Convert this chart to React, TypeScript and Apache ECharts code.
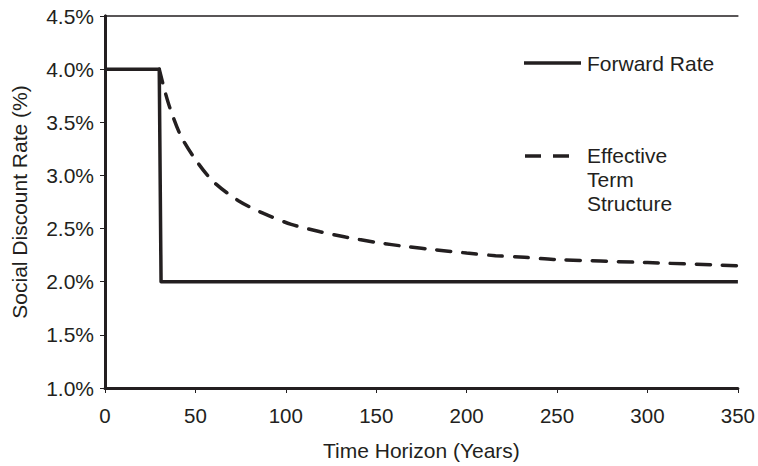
import React, { useEffect, useRef } from "react";
import * as echarts from "echarts";

const forwardYears = [0, 30, 31, 350];
const forwardRate = [4.0, 4.0, 2.0, 2.0];

const effectiveYears = [30, 33, 36, 42, 50, 60, 74, 88, 103, 119, 133, 150, 167, 183, 200, 216, 232, 248, 300, 350];
const effectiveRate = [4.0, 3.8, 3.63, 3.37, 3.15, 2.94, 2.76, 2.64, 2.54, 2.47, 2.42, 2.37, 2.33, 2.3, 2.27, 2.245, 2.23, 2.21, 2.18, 2.15];

const xTicks = [0, 50, 100, 150, 200, 250, 300, 350];
const yTicks = [1.0, 1.5, 2.0, 2.5, 3.0, 3.5, 4.0, 4.5];

const INK = "#231f20";
const FONT = "'Liberation Sans', Arial, sans-serif";

export default function App() {
  const ref = useRef<HTMLDivElement>(null);
  useEffect(() => {
    if (!ref.current) return;
    const chart = echarts.init(ref.current, null, { renderer: "svg" });
    const fwd = forwardYears.map((x, i) => [x, forwardRate[i]]);
    const eff = effectiveYears.map((x, i) => [x, effectiveRate[i]]);
    chart.setOption({
      animation: false,
      backgroundColor: "#ffffff",
      textStyle: { fontFamily: FONT, color: INK },
      grid: { left: 105, right: 17, top: 16, bottom: 76 },
      xAxis: [
        {
          type: "value",
          min: xTicks[0],
          max: xTicks[xTicks.length - 1],
          interval: 50,
          name: "Time Horizon (Years)",
          nameLocation: "middle",
          nameGap: 52,
          nameTextStyle: { fontSize: 21, color: INK, fontFamily: FONT },
          axisLine: { show: true, lineStyle: { color: INK, width: 3 } },
          axisTick: { show: true, length: 5, inside: false, lineStyle: { color: INK, width: 1 } },
          axisLabel: { fontSize: 20.5, color: INK, margin: 17, fontFamily: FONT },
          splitLine: { show: false },
        },
        {
          type: "value",
          position: "top",
          min: 0,
          max: 350,
          axisLine: { show: true, lineStyle: { color: INK, width: 1.5 } },
          axisTick: { show: false },
          axisLabel: { show: false },
          splitLine: { show: false },
        },
      ],
      yAxis: [
        {
          type: "value",
          min: yTicks[0],
          max: yTicks[yTicks.length - 1],
          interval: 0.5,
          name: "Social Discount Rate (%)",
          nameLocation: "middle",
          nameGap: 75,
          nameTextStyle: { fontSize: 21, color: INK, fontFamily: FONT },
          axisLine: { show: true, lineStyle: { color: INK, width: 3 } },
          axisTick: { show: true, length: 5, inside: false, lineStyle: { color: INK, width: 1 } },
          axisLabel: {
            fontSize: 21,
            color: INK,
            margin: 11,
            fontFamily: FONT,
            formatter: (v: number) => v.toFixed(1) + "%",
          },
          splitLine: { show: false },
        },
        {
          type: "value",
          position: "right",
          min: 1.0,
          max: 4.5,
          axisLine: { show: true, lineStyle: { color: INK, width: 3 } },
          axisTick: { show: false },
          axisLabel: { show: false },
          splitLine: { show: false },
        },
      ],
      series: [
        {
          name: "Forward Rate",
          type: "line",
          data: fwd,
          showSymbol: false,
          symbol: "none",
          lineStyle: { color: INK, width: 3.5, join: "round" },
          z: 3,
        },
        {
          name: "Effective Term Structure",
          type: "line",
          data: eff,
          smooth: 0.3,
          showSymbol: false,
          symbol: "none",
          lineStyle: { color: INK, width: 3.5, type: [14, 12], cap: "round" },
          z: 2,
        },
      ],
      graphic: [
        {
          type: "line",
          shape: { x1: 524, y1: 63, x2: 581, y2: 63 },
          style: { stroke: INK, lineWidth: 3.5 },
        },
        {
          type: "text",
          x: 587,
          y: 63,
          style: { text: "Forward Rate", fontSize: 21, fill: INK, fontFamily: FONT, verticalAlign: "middle" },
        },
        {
          type: "line",
          shape: { x1: 525, y1: 156, x2: 570, y2: 156 },
          style: { stroke: INK, lineWidth: 3.5, lineDash: [16, 12] },
        },
        {
          type: "text",
          x: 587,
          y: 155,
          style: { text: "Effective", fontSize: 21, fill: INK, fontFamily: FONT, verticalAlign: "middle" },
        },
        {
          type: "text",
          x: 587,
          y: 179,
          style: { text: "Term", fontSize: 21, fill: INK, fontFamily: FONT, verticalAlign: "middle" },
        },
        {
          type: "text",
          x: 587,
          y: 203,
          style: { text: "Structure", fontSize: 21, fill: INK, fontFamily: FONT, verticalAlign: "middle" },
        },
      ],
    });
    return () => chart.dispose();
  }, []);
  return (
    <div
      ref={ref}
      style={{ position: "fixed", left: 0, top: 0, width: 758, height: 466, background: "#fff" }}
    />
  );
}
